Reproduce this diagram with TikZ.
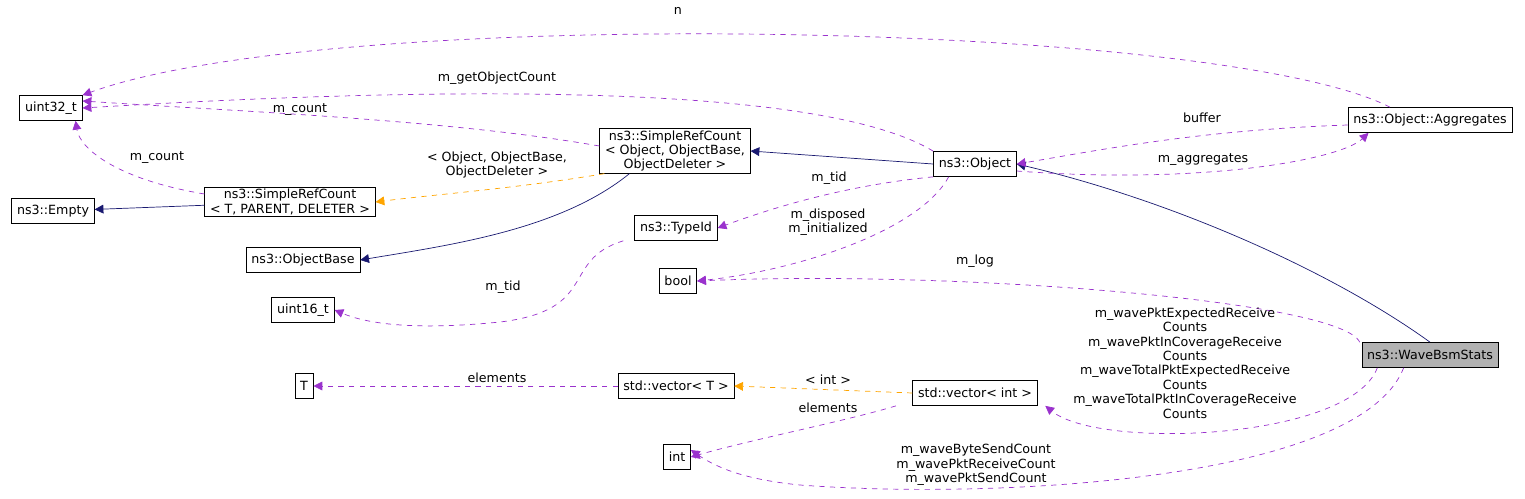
\documentclass[tikz,border=0pt]{standalone}
\usepackage{fontspec}
\setmainfont{DejaVu Sans}
\usetikzlibrary{arrows.meta}
\definecolor{purp}{HTML}{9A32CD}
\definecolor{navy}{HTML}{191970}
\definecolor{orng}{HTML}{FFA500}
\begin{document}
\begin{tikzpicture}
          [x=0.02cm,y=-0.02cm,
          font=\fontsize{7.2}{8.2}\selectfont,
          cls/.style={shape=rectangle,draw=black,fill=white,text=black,minimum height=0.5cm,inner xsep=3pt,inner ysep=1pt,align=center},
          mem/.style={draw=purp,dashed,-{Triangle[length=5pt,width=5pt]}},
          tpl/.style={draw=orng,dashed,-{Triangle[length=5pt,width=5pt]}},
          inh/.style={draw=navy,-{Triangle[length=5pt,width=5pt]}},
          lbl/.style={inner sep=0pt,align=center}]

            \useasboundingbox (0,0) rectangle (1525,498);

            \node (uint32) [cls] at (51,108) {uint32\_t};
            \node (empty) [cls] at (53,211) {ns3::Empty};
            \node (srct) [cls] at (290,202) {ns3::SimpleRefCount\\\textless{} T, PARENT, DELETER \textgreater{}};
            \node (objbase) [cls] at (303,260) {ns3::ObjectBase};
            \node (uint16) [cls] at (303,310) {uint16\_t};
            \node (T) [cls] at (304,386) {T};
            \node (int) [cls] at (677,457) {int};
            \node (bool) [cls] at (678,281) {bool};
            \node (typeid) [cls] at (676,228) {ns3::TypeId};
            \node (srco) [cls] at (675,151) {ns3::SimpleRefCount\\\textless{} Object, ObjectBase,\\ObjectDeleter \textgreater{}};
            \node (vect) [cls] at (676,386) {std::vector\textless{} T \textgreater{}};
            \node (veci) [cls] at (975,393) {std::vector\textless{} int \textgreater{}};
            \node (object) [cls] at (975,164) {ns3::Object};
            \node (aggr) [cls] at (1430,120) {ns3::Object::Aggregates};
            \node (wave) [cls,fill=black!30] at (1430,355) {ns3::WaveBsmStats};

          % inheritance
          \draw [inh] (srct) -- (empty);
          \draw [inh] (srco.south west) ++(30,0) .. controls (560,230) and (450,245) .. (objbase.east);
          \draw [inh] (object.west) -- (srco.east);
          \draw [inh] (wave.north) .. controls (1330,270) and (1170,200) .. (object.east);

          % templates
          \draw [tpl] (srco.south west) ++(5,0) .. controls (520,188) and (430,195) .. (srct.east);
          \node (t1) [lbl] at (497,165) {\textless{} Object, ObjectBase,\\ObjectDeleter \textgreater{}};
          \draw [tpl] (veci.west) -- (vect.east);
          \node (t2) [lbl] at (828,380) {\textless{} int \textgreater{}};

          % members
          \draw [mem] (aggr.north) ++(-40,0) .. controls (1220,20) and (330,5) .. (uint32.north east);
          \node (l1) [lbl] at (678,11) {n};
          \draw [mem] (object.north west) .. controls (800,70) and (300,95) .. (uint32.east);
          \node (l2) [lbl] at (497,78) {m\_getObjectCount};
          \draw [mem] (srco.west) ++(0,-5) .. controls (450,120) and (250,112) .. ([yshift=4]uint32.east);
          \node (l3) [lbl] at (300,110) {m\_count};
          \draw [mem] (srct.west) ++(0,-8) .. controls (120,180) and (80,150) .. ([xshift=14]uint32.south);
          \node (l4) [lbl] at (157,158) {m\_count};
          \draw [mem] (aggr.west) ++(0,5) .. controls (1200,130) and (1100,150) .. (object.east);
          \node (l5) [lbl] at (1202,118) {buffer};
          \draw [mem] (object.east) ++(0,7) .. controls (1200,185) and (1340,160) .. ([xshift=-35]aggr.south);
          \node (l6) [lbl] at (1203,160) {m\_aggregates};
          \draw [mem] (object.south west) .. controls (850,185) and (780,205) .. (typeid.east);
          \node (l7) [lbl] at (829,178) {m\_tid};
          \draw [mem] ([xshift=-15]object.south) .. controls (920,230) and (800,270) .. (bool.east);
          \node (l8) [lbl] at (828,222) {m\_disposed\\m\_initialized};
          \draw [mem] ([xshift=-30]typeid.south) .. controls (560,260) and (600,310) .. (500,322) .. controls (420,330) and (370,325) .. (uint16.east);
          \node (l9) [lbl] at (503,287) {m\_tid};
          \draw [mem] ([xshift=-40]wave.north) .. controls (1340,300) and (950,270) .. (bool.east);
          \node (l10) [lbl] at (975,261) {m\_log};
          \draw [mem] (vect.west) -- (T.east);
          \node (l11) [lbl] at (497,378) {elements};
          \draw [mem] ([xshift=-45]veci.south) .. controls (850,420) and (750,440) .. (int.east);
          \node (l12) [lbl] at (828,408) {elements};
          \draw [mem] ([xshift=-30]wave.south) .. controls (1350,440) and (1100,450) .. ([xshift=40]veci.south);
          \node (l13) [lbl] at (1185,363) {m\_wavePktExpectedReceive\\Counts\\m\_wavePktInCoverageReceive\\Counts\\m\_waveTotalPktExpectedReceive\\Counts\\m\_waveTotalPktInCoverageReceive\\Counts};
          \draw [mem] ([xshift=-15]wave.south) .. controls (1360,480) and (1000,500) .. (800,485) .. controls (750,480) and (720,470) .. ([yshift=4]int.east);
          \node (l14) [lbl] at (976,465) {m\_waveByteSendCount\\m\_wavePktReceiveCount\\m\_wavePktSendCount};

        \end{tikzpicture}
\end{document}
